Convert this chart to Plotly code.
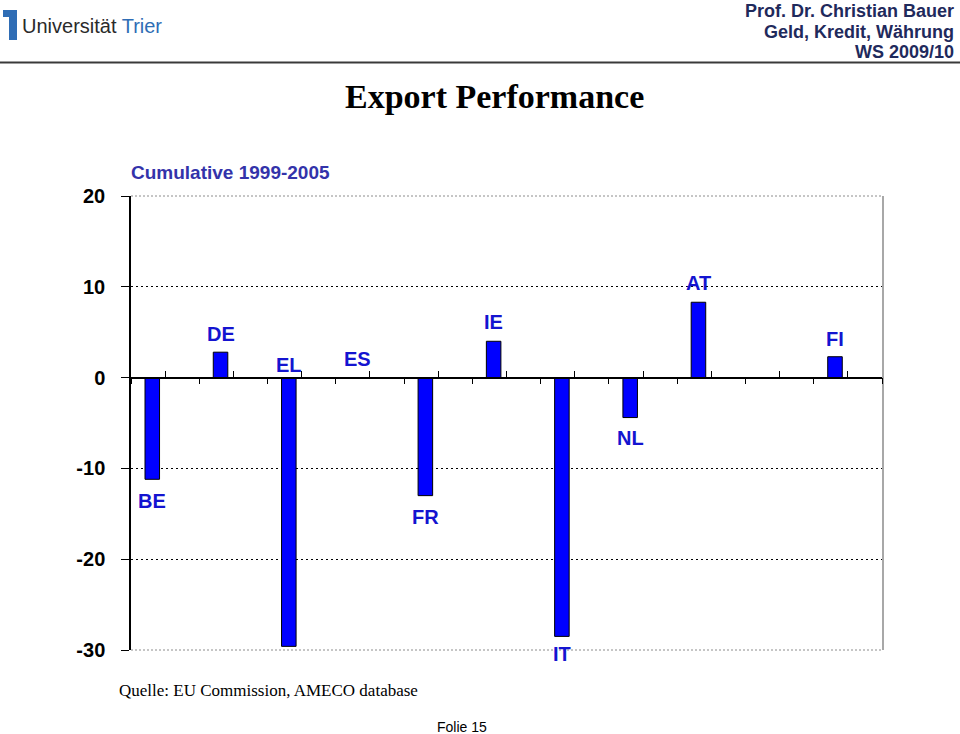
import plotly.graph_objects as go

# ---- data ----
countries = ["BE", "DE", "EL", "ES", "FR", "IE", "IT", "NL", "AT", "", "FI"]
export_perf = [-11.2, 2.8, -29.6, 0.0, -13.0, 4.0, -28.5, -4.4, 8.3, None, 2.3]
label_y = [-13.6, 4.8, 1.4, 2.1, -15.4, 6.1, -30.4, -6.7, 10.4, None, 4.2]
y_ticks = [-30, -20, -10, 0, 10, 20]
y_tick_text = ["-30", "-20", "-10", "0", "10", "20"]
grid_ticks = [-20, -10, 10]
Y_MIN, Y_MAX = -30, 20

W, H = 960, 734
L, R, T, B = 131, 78, 196, 84
PW, PH = W - L - R, H - T - B
PX_PER_UNIT = PH / (Y_MAX - Y_MIN)


def fx(x):
    return (x - L) / PW


def fy(y):
    return (H - B - y) / PH


BAR_OFF = -0.295
BAR_W = 0.213
idx = list(range(len(countries)))

SANS = "Liberation Sans, Arial, sans-serif"
SERIF = "Liberation Serif, Times New Roman, serif"
HEAD = "#1f2a5c"

fig = go.Figure()
fig.add_trace(go.Bar(
    x=idx, y=export_perf, offset=BAR_OFF, width=BAR_W,
    marker=dict(color="#0000ff", line=dict(color="#000000", width=1)),
    showlegend=False, hoverinfo="skip",
))
# helper trace so the overlay grid axis exists
fig.add_trace(go.Scatter(x=[None], y=[None], yaxis="y2", showlegend=False, hoverinfo="skip"))

fig.update_layout(
    width=W, height=H,
    margin=dict(l=L, r=R, t=T, b=B),
    paper_bgcolor="white", plot_bgcolor="white",
    xaxis=dict(
        range=[-0.5, len(countries) - 0.5],
        anchor="free", position=-Y_MIN / (Y_MAX - Y_MIN),
        showline=True, linecolor="black", linewidth=1.5,
        tickmode="array", tickvals=[i - 0.5 for i in idx] + [len(countries) - 0.5],
        ticks="outside", ticklen=6, tickwidth=1, tickcolor="black",
        showticklabels=False, showgrid=False, zeroline=False,
        minor=dict(tickmode="array", tickvals=idx, ticks="inside",
                   ticklen=6, tickwidth=1, tickcolor="black", showgrid=False),
    ),
    yaxis=dict(
        range=[Y_MIN, Y_MAX], tickmode="array", tickvals=y_ticks, ticktext=y_tick_text,
        ticks="outside", ticklen=8, tickwidth=1, tickcolor="black",
        ticklabelstandoff=12,
        showline=True, linecolor="black", linewidth=1.5,
        showgrid=False, zeroline=False,
        tickfont=dict(family=SANS, size=20, color="black", weight="bold"),
    ),
    yaxis2=dict(
        range=[Y_MIN, Y_MAX], overlaying="y", side="right",
        tickmode="array", tickvals=grid_ticks, showticklabels=False, ticks="",
        showgrid=True, gridcolor="black", gridwidth=1, griddash="2px,3px",
        showline=True, linecolor="#a8a8a8", linewidth=2, zeroline=False,
    ),
)

# country labels next to the bars (clamped into range, shifted in pixels)
for i, (c, ly) in enumerate(zip(countries, label_y)):
    if ly is None or not c:
        continue
    yc = min(max(ly, Y_MIN), Y_MAX)
    fig.add_annotation(
        x=i + BAR_OFF + BAR_W / 2, y=yc, yshift=(ly - yc) * PX_PER_UNIT,
        xref="x", yref="y", text=f"<b>{c}</b>",
        showarrow=False, xanchor="center", yanchor="middle",
        font=dict(family=SANS, size=20, color="#1414d0"),
    )

annos = [
    dict(text="<b>Export Performance</b>", x=fx(494), y=fy(97), xanchor="center",
         font=dict(family=SERIF, size=34, color="black")),
    dict(text="<b>Cumulative 1999-2005</b>", x=fx(129), y=fy(172), xanchor="left",
         font=dict(family=SANS, size=19, color="#3333aa")),
    dict(text="<b>Prof. Dr. Christian Bauer</b>", x=fx(956), y=fy(11), xanchor="right",
         font=dict(family=SANS, size=18, color=HEAD)),
    dict(text="<b>Geld, Kredit, Währung</b>", x=fx(956), y=fy(32), xanchor="right",
         font=dict(family=SANS, size=18, color=HEAD)),
    dict(text="<b>WS 2009/10</b>", x=fx(956), y=fy(52), xanchor="right",
         font=dict(family=SANS, size=18, color=HEAD)),
    dict(text="Quelle: EU Commission, AMECO database", x=fx(117), y=fy(690), xanchor="left",
         font=dict(family=SERIF, size=17, color="black")),
    dict(text="Folie 15", x=fx(462), y=fy(727), xanchor="center",
         font=dict(family=SANS, size=14, color="black")),
    dict(text="Universität <span style='color:#2f6db5'>Trier</span>", x=fx(20), y=fy(26),
         xanchor="left", font=dict(family=SANS, size=20, color="#2a2a2a")),
]
for a in annos:
    a.update(xref="paper", yref="paper", yanchor="middle", showarrow=False)
    fig.add_annotation(**a)

# plot-area border lines (top / bottom dotted gray)
for yy in (0, 1):
    fig.add_shape(type="line", xref="paper", yref="paper", x0=0, x1=1, y0=yy, y1=yy,
                  layer="below", line=dict(color="#8c8c8c", width=1, dash="2px,2px"))
# header rule and logo mark
fig.add_shape(type="line", xref="paper", yref="paper",
              x0=fx(0), x1=fx(960), y0=fy(62.5), y1=fy(62.5),
              line=dict(color="#3a3a3a", width=2))
fig.add_shape(type="path", xref="paper", yref="paper",
              path=(f"M {fx(3)},{fy(10)} L {fx(17)},{fy(10)} L {fx(17)},{fy(40)} "
                    f"L {fx(9)},{fy(40)} L {fx(9)},{fy(17)} L {fx(3)},{fy(17)} Z"),
              fillcolor="#2f6db5", line=dict(width=0))

fig.write_html(
    "out.html",
    config={"displayModeBar": False},
    post_script="document.body.style.margin='0px';document.body.style.overflow='hidden';",
)
